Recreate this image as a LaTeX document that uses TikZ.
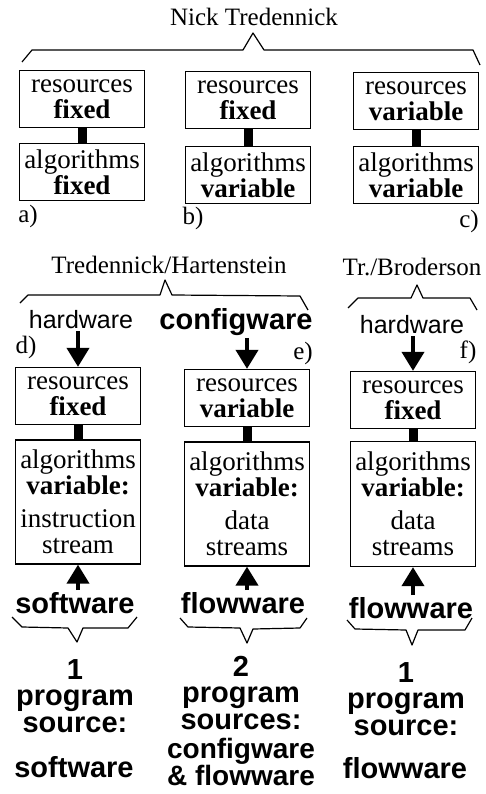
\documentclass[tikz,border=0pt]{standalone}
\usepackage{fontspec}
\setmainfont{Liberation Serif}
\setsansfont{Liberation Sans}
\usetikzlibrary{arrows.meta}

\begin{document}
\begin{tikzpicture}[x=1pt,y=-1pt]
\useasboundingbox (0,0) rectangle (485,794);
\begin{scope}[every node/.style={font=\fontsize{25}{25}\selectfont}]
    \node (nick) at (254,17) {Nick Tredennick};
    \node (treha) at (169,265) {Tredennick/Hartenstein};
    \node (trbro) at (412,267) {Tr./Broderson};
\end{scope}
\begin{scope}[every node/.style={rectangle,draw,line width=1.3pt,inner sep=0pt,
              minimum width=125pt,minimum height=57pt,align=center,
              font=\fontsize{27}{26}\selectfont}]
    \node (atop) at (82,99) {resources\\\textbf{fixed}};
    \node (abot) at (82,172) {algorithms\\\textbf{fixed}};
    \node (btop) at (248,100) {resources\\\textbf{fixed}};
    \node (bbot) at (248,175) {algorithms\\\textbf{variable}};
    \node (ctop) at (416,101) {resources\\\textbf{variable}};
    \node (cbot) at (416,175) {algorithms\\\textbf{variable}};
    \node (dtop) at (78,396) {resources\\\textbf{fixed}};
    \node[minimum height=124pt] (dbot) at (78,502) {algorithms\\\textbf{variable:}\\[7pt]instruction\\stream};
    \node (etop) at (247,398) {resources\\\textbf{variable}};
    \node[minimum height=124pt] (ebot) at (247,504) {algorithms\\\textbf{variable:}\\[7pt]data\\streams};
    \node (ftop) at (413,400) {resources\\\textbf{fixed}};
    \node[minimum height=125pt] (fbot) at (413,504) {algorithms\\\textbf{variable:}\\[7pt]data\\streams};
\end{scope}
\begin{scope}[every node/.style={font=\fontsize{25}{25}\selectfont}]
    \node (la) at (28,216) {a)};
    \node (lb) at (193,218) {b)};
    \node (lc) at (469,221) {c)};
    \node (ld) at (26,347) {d)};
    \node (le) at (303,353) {e)};
    \node (lf) at (468,352) {f)};
\end{scope}
\begin{scope}[every node/.style={inner sep=2pt,font=\sffamily\fontsize{25}{25}\selectfont}]
    \node (hwd) at (81,320) {hardware};
    \node (hwf) at (412,325) {hardware};
\end{scope}
\begin{scope}[every node/.style={inner sep=2pt,align=center,
              font=\sffamily\bfseries\fontsize{29}{26.5}\selectfont}]
    \node (cfg) at (236,322) {configware};
    \node (swd) at (75,603) {software};
    \node (fwe) at (243,603) {flowware};
    \node (fwf) at (411,608) {flowware};
\end{scope}
\begin{scope}[every node/.style={inner sep=0pt,align=center,
              font=\sffamily\bfseries\fontsize{29}{26.5}\selectfont}]
    \node (srcd) at (75,696) {1\\program\\source:};
    \node (srce) at (241,693) {2\\program\\sources:};
    \node (srcf) at (406,699) {1\\program\\source:};
    \node (outd) at (74,767) {software};
    \node[font=\sffamily\bfseries\fontsize{28}{23}\selectfont] (oute) at (241,762) {configware\\\& flowware};
    \node (outf) at (405,768) {flowware};
\end{scope}
\begin{scope}[every edge/.style={draw,line width=9pt}]
    \path (atop.south) edge (abot.north);
    \path (btop.south) edge (bbot.north);
    \path (ctop.south) edge (cbot.north);
    \path (dtop.south) edge (dbot.north);
    \path (etop.south) edge (ebot.north);
    \path (ftop.south) edge (fbot.north);
\end{scope}
\begin{scope}[>={Triangle[width=22pt,length=19pt]},
              every edge/.style={draw,line width=4pt}]
    \path [->] (dtop.north |- hwd.south) edge (dtop.north);
    \path [->] (etop.north |- cfg.south) edge (etop.north);
    \path [->] (ftop.north |- hwf.south) edge (ftop.north);
    \path [->] (dbot.south |- swd.north) edge (dbot.south);
    \path [->] (ebot.south |- fwe.north) edge (ebot.south);
    \path [->] (fbot.south |- fwf.north) edge (fbot.south);
\end{scope}
\begin{scope}[line width=1.2pt,line join=round]
    \draw (22,62) -- (32,50) -- (243,50) -- (253,33) -- (264,50) -- (473,50) -- (480,65);
    \draw (20,303) -- (28,295) -- (160,295) -- (165,280) -- (172,295) -- (300,296) -- (308,310);
    \draw (348,308) -- (358,298) -- (411,298) -- (417,285) -- (423,298) -- (470,298) -- (477,310);
    \draw (12,617) -- (22,627) -- (68,628) -- (77,642) -- (83,628) -- (128,628) -- (137,617);
    \draw (180,618) -- (188,627) -- (240,628) -- (247,643) -- (253,629) -- (300,628) -- (307,618);
    \draw (347,620) -- (355,629) -- (406,630) -- (412,645) -- (418,630) -- (465,630) -- (472,618);
\end{scope}
\end{tikzpicture}
\end{document}
